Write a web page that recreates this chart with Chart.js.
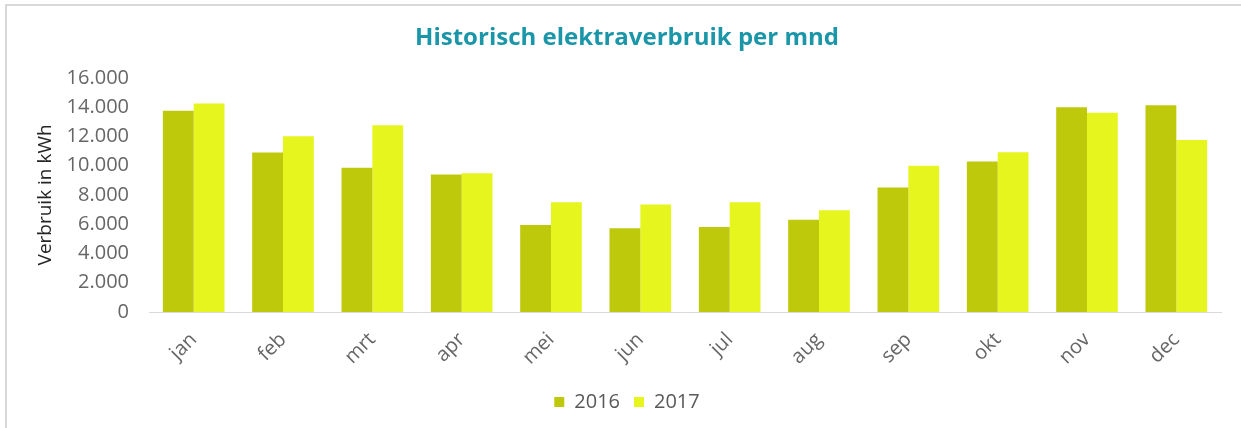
<!DOCTYPE html>
<html>
<head>
<meta charset="utf-8">
<script src="https://cdn.jsdelivr.net/npm/chart.js@4.4.1/dist/chart.umd.min.js"></script>
<style>
  html, body { margin: 0; padding: 0; background: #ffffff; }
  #wrap { position: relative; width: 1241px; height: 428px; overflow: hidden; }
  #frame { position: absolute; left: 5px; top: 4px; width: 1300px; height: 500px;
           border-left: 2px solid #d9d9d9; border-top: 2px solid #d9d9d9; box-sizing: border-box; }
  #c { position: absolute; left: 0; top: 0; }
</style>
</head>
<body>
<div id="wrap">
  <div id="frame"></div>
  <canvas id="c" width="1241" height="428"></canvas>
</div>
<script>
const titleText = 'Historisch elektraverbruik per mnd';
const yAxisTitle = 'Verbruik in kWh';
const months = ['jan','feb','mrt','apr','mei','jun','jul','aug','sep','okt','nov','dec'];
const seriesNames = ['2016', '2017'];
const values2016 = [13750, 10900, 9850, 9400, 5950, 5720, 5800, 6300, 8500, 10280, 13980, 14120];
const values2017 = [14250, 12000, 12750, 9480, 7500, 7350, 7500, 6950, 10000, 10920, 13620, 11750];
const yTicks = [0, 2000, 4000, 6000, 8000, 10000, 12000, 14000, 16000];

const color2016 = '#bfc90c';
const color2017 = '#e6f51e';
const fontFamily = '"Open Sans", "Noto Sans", sans-serif';

function fmt(v) {
  return String(v).replace(/\B(?=(\d{3})+(?!\d))/g, '.');
}

new Chart(document.getElementById('c'), {
  type: 'bar',
  data: {
    labels: months,
    datasets: [
      { label: seriesNames[0], data: values2016, backgroundColor: color2016,
        borderWidth: 0, barPercentage: 1.0, categoryPercentage: 0.69 },
      { label: seriesNames[1], data: values2017, backgroundColor: color2017,
        borderWidth: 0, barPercentage: 1.0, categoryPercentage: 0.69 }
    ]
  },
  options: {
    responsive: false,
    animation: false,
    devicePixelRatio: 1,
    layout: { padding: { left: 33, right: 20, top: 0, bottom: 6 } },
    plugins: {
      title: {
        display: true,
        text: titleText,
        color: '#1a96a8',
        font: { family: fontFamily, size: 24, weight: 'bold' },
        padding: { top: 24, bottom: 25 }
      },
      legend: {
        display: true,
        position: 'bottom',
        labels: {
          color: '#595959',
          font: { family: fontFamily, size: 20 },
          boxWidth: 10, boxHeight: 10,
          padding: 14
        }
      },
      tooltip: { enabled: false }
    },
    scales: {
      x: {
        grid: { display: false },
        border: { display: true, color: '#d9d9d9', width: 1 },
        ticks: {
          color: '#666666',
          font: { family: fontFamily, size: 20 },
          minRotation: 45, maxRotation: 45,
          padding: 8
        },
        afterFit(scale) { scale.height = 66; }
      },
      y: {
        min: 0, max: 16000,
        grid: { display: false },
        border: { display: false },
        afterBuildTicks(scale) { scale.ticks = yTicks.map(v => ({ value: v })); },
        ticks: {
          color: '#666666',
          font: { family: fontFamily, size: 20 },
          padding: 12,
          callback: (v) => fmt(v)
        },
        title: {
          display: true,
          text: yAxisTitle,
          color: '#262626',
          font: { family: fontFamily, size: 19 },
          padding: { top: 1, bottom: 0 }
        },
        afterFit(scale) { scale.width = 116; }
      }
    }
  }
});
</script>
</body>
</html>
